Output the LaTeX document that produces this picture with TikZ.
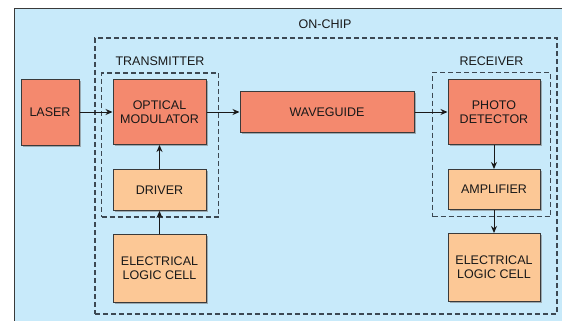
\documentclass[tikz,border=0pt]{standalone}
\usepackage{fontspec}
\setmainfont{Liberation Sans}
\usepackage{xcolor}
\usepackage{tikz}
\usetikzlibrary{arrows.meta, positioning, fit, shadows}

\definecolor{chipblue}{HTML}{C8EAFA}
\definecolor{salmon}{HTML}{F4896E}
\definecolor{peach}{HTML}{FCC896}
\definecolor{edgegray}{HTML}{3A3A3A}
\definecolor{dashgray}{HTML}{3C4852}

\begin{document}
\begin{tikzpicture}[
    x=1pt, y=-1pt,
    node distance=24pt and 33pt,
    every node/.style={font=\fontsize{12.5}{14}\selectfont, text=black!90},
    optic/.style={rectangle, draw=edgegray, fill=salmon, line width=1pt, align=center, inner sep=0pt, minimum width=93pt, minimum height=65pt, drop shadow={shadow xshift=1.5pt, shadow yshift=-1.5pt, opacity=0.6}},
    elec/.style={optic, fill=peach, minimum height=41pt},
    dashbox/.style={rectangle, draw=dashgray, line width=1.3pt, dash pattern=on 5pt off 3pt, inner sep=0pt},
    arrow/.style={-{Stealth[length=7pt, width=6pt]}, line width=1pt, draw=black!90}
]
    % background panel
    \useasboundingbox (0,0) rectangle (562,321);
    \fill[white] (0,0) rectangle (562,321);
    \node[rectangle, draw=edgegray, fill=chipblue, line width=1.3pt, minimum width=560pt, minimum height=324pt, anchor=north west] (panel) at (14,8) {};

    % on-chip area
    \node[dashbox, minimum width=462pt, minimum height=276pt] (onchip) at (326,176) {};
    \node (onchiplbl) at (325,24) {ON-CHIP};

    % Optical path
    \node[optic, minimum width=58pt, minimum height=66pt] (laser) at (50,112) {LASER};
    \node[optic, right=of laser] (modulator) {OPTICAL\\MODULATOR};
    \node[optic, right=of modulator, minimum width=174pt, minimum height=41pt] (waveguide) {WAVEGUIDE};
    \node[optic, right=of waveguide, minimum width=92pt] (photo) {PHOTO\\DETECTOR};

    % Electrical side
    \node[elec, below=of modulator] (driver) {DRIVER};
    \node[elec, below=23pt of driver, minimum height=68pt] (logicL) {ELECTRICAL\\LOGIC CELL};
    \node[elec, below=of photo, minimum width=92pt, minimum height=40pt] (amp) {AMPLIFIER};
    \node[elec, below=23pt of amp, minimum width=92pt, minimum height=68pt] (logicR) {ELECTRICAL\\LOGIC CELL};

    % Transmitter / Receiver groups
    \node[dashbox, fit=(modulator)(driver), inner xsep=11.5pt, inner ysep=6pt, xshift=0.5pt] (tx) {};
    \node[above=3pt of tx.north] (txlbl) {TRANSMITTER};
    \node[dashbox, fit=(photo)(amp), inner xsep=12.5pt, inner ysep=6.5pt, xshift=-2.5pt] (rx) {};
    \node[above=3pt of rx.north] (rxlbl) {RECEIVER};

    % Flow Arrows
    \draw[arrow] (laser) -- (modulator);
    \draw[arrow] (modulator) -- (waveguide);
    \draw[arrow] (waveguide) -- (photo);
    \draw[arrow] (driver) -- (modulator);
    \draw[arrow] (logicL) -- (driver);
    \draw[arrow] (photo) -- (amp);
    \draw[arrow] (amp) -- (logicR);
\end{tikzpicture}
\end{document}
